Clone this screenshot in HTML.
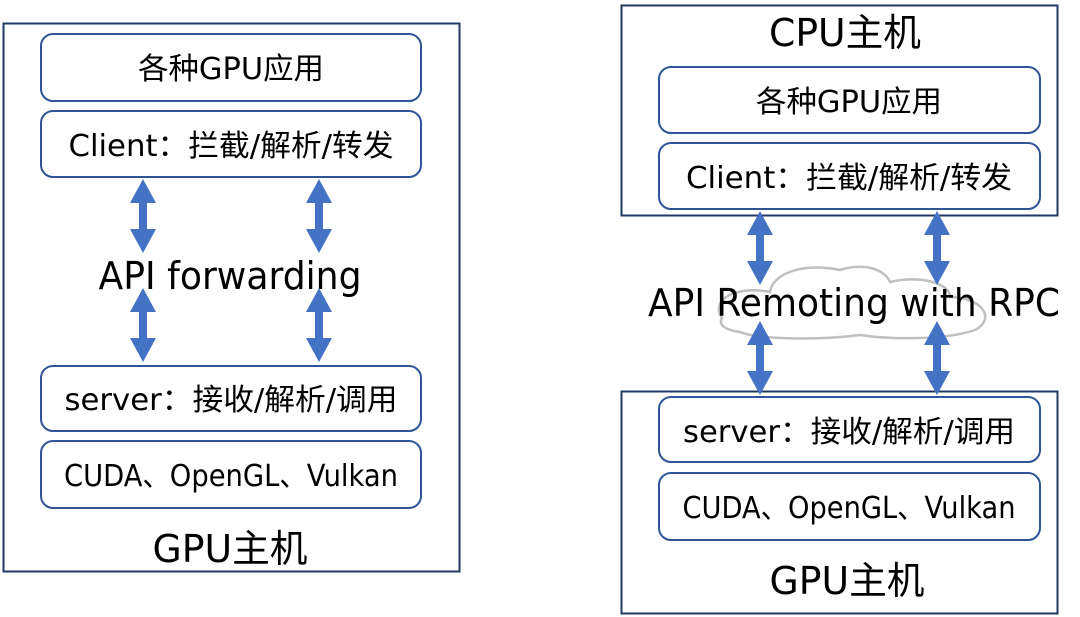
<!DOCTYPE html>
<html><head><meta charset="utf-8"><style>
html,body{margin:0;padding:0;background:#fff;}
svg{display:block;}
text{font-family:"DejaVu Sans","Noto Sans CJK SC",sans-serif;fill:#000;}
</style></head><body>
<svg width="1080" height="617" viewBox="0 0 1080 617" xmlns="http://www.w3.org/2000/svg">
<defs>
<g id="arr"><path d="M0,0 L13,24 L4,24 L4,50 L13,50 L0,74 L-13,50 L-4,50 L-4,24 L-13,24 Z" fill="#4472c4"/></g>
</defs>
<!-- LEFT -->
<rect x="3.5" y="23.5" width="456" height="548" fill="#fff" stroke="#1f3864" stroke-width="2"/>
<g fill="#fff" stroke="#2f5597" stroke-width="2">
<rect x="41" y="34" width="380" height="67" rx="12"/>
<rect x="41" y="111" width="380" height="66" rx="12"/>
<rect x="41" y="366" width="380" height="65" rx="12"/>
<rect x="41" y="441" width="380" height="67" rx="12"/>
</g>
<g text-anchor="middle" font-size="30">
<text x="231" y="79" textLength="186" lengthAdjust="spacingAndGlyphs">各种GPU应用</text>
<text x="231" y="156" textLength="325" lengthAdjust="spacingAndGlyphs">Client：拦截/解析/转发</text>
<text x="231" y="410" textLength="333" lengthAdjust="spacingAndGlyphs">server：接收/解析/调用</text>
<text x="231" y="486" textLength="334" lengthAdjust="spacingAndGlyphs">CUDA、OpenGL、Vulkan</text>
<text x="230" y="562" font-size="38" textLength="155" lengthAdjust="spacingAndGlyphs">GPU主机</text>
<text x="230" y="289" font-size="38" textLength="263" lengthAdjust="spacingAndGlyphs">API forwarding</text>
</g>
<use href="#arr" x="143" y="179"/>
<use href="#arr" x="319" y="179"/>
<use href="#arr" x="143" y="288"/>
<use href="#arr" x="319" y="288"/>
<!-- RIGHT -->
<rect x="621.5" y="5.5" width="436" height="210" fill="#fff" stroke="#1f3864" stroke-width="2"/>
<rect x="621.5" y="391.5" width="436" height="222" fill="#fff" stroke="#1f3864" stroke-width="2"/>
<g fill="#fff" stroke="#2f5597" stroke-width="2">
<rect x="659" y="67" width="381" height="66" rx="12"/>
<rect x="659" y="143" width="381" height="66" rx="12"/>
<rect x="659" y="397" width="381" height="65" rx="12"/>
<rect x="659" y="473" width="381" height="67" rx="12"/>
</g>
<path d="M722,318 C710,300 735,285 770,292 C772,275 800,262 840,270 C865,262 885,270 890,282 C920,275 950,283 950,297 C985,298 995,320 975,330 C940,342 880,338 860,335 C820,340 760,340 740,332 C725,330 718,325 722,318 Z" fill="#fff" stroke="#bfbfbf" stroke-width="2.5"/>
<use href="#arr" x="760" y="211"/>
<use href="#arr" x="937" y="211"/>
<use href="#arr" x="760" y="321"/>
<use href="#arr" x="937" y="321"/>
<g text-anchor="middle" font-size="30">
<text x="845" y="46" font-size="38" textLength="152" lengthAdjust="spacingAndGlyphs">CPU主机</text>
<text x="849" y="112" textLength="186" lengthAdjust="spacingAndGlyphs">各种GPU应用</text>
<text x="849" y="188" textLength="326" lengthAdjust="spacingAndGlyphs">Client：拦截/解析/转发</text>
<text x="849" y="442" textLength="332" lengthAdjust="spacingAndGlyphs">server：接收/解析/调用</text>
<text x="849" y="518" textLength="333" lengthAdjust="spacingAndGlyphs">CUDA、OpenGL、Vulkan</text>
<text x="847" y="594" font-size="38" textLength="155" lengthAdjust="spacingAndGlyphs">GPU主机</text>
<text x="854" y="316" font-size="38" textLength="412" lengthAdjust="spacingAndGlyphs">API Remoting with RPC</text>
</g>
</svg>
</body></html>
